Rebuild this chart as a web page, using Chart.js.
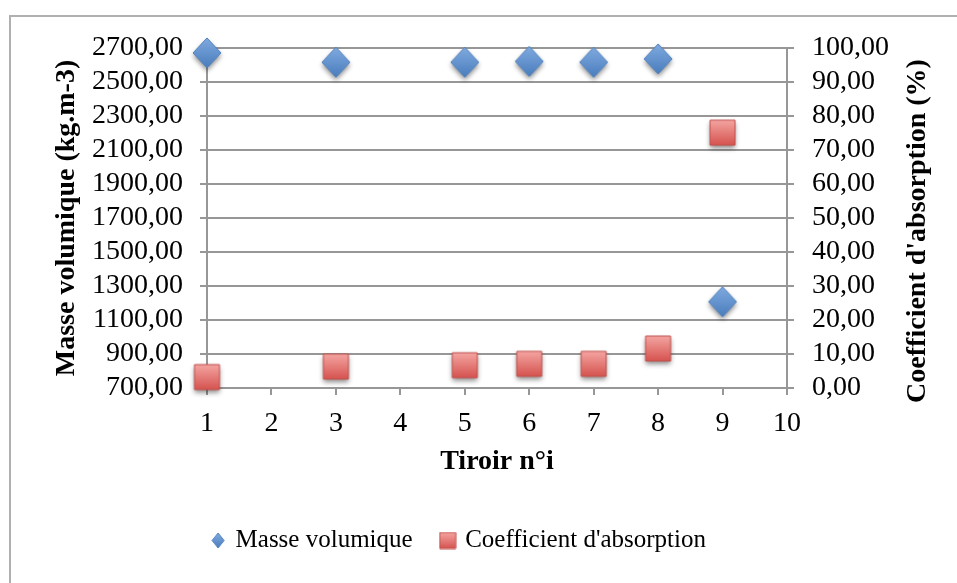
<!DOCTYPE html>
<html>
<head>
<meta charset="utf-8">
<script src="https://cdn.jsdelivr.net/npm/chart.js@4.4.1/dist/chart.umd.min.js"></script>
<style>
    html, body { margin: 0; padding: 0; background: #fff; overflow: hidden; }
    #frame {
        position: absolute; left: 9px; top: 15px; width: 980px; height: 600px;
        border-left: 2px solid #b0b0b0; border-top: 2px solid #b0b0b0;
    }
    #wrap { position: absolute; left: 0; top: 0; width: 957px; height: 583px; }
</style>
</head>
<body>
<div id="frame"></div>
<div id="wrap"><canvas id="myChart"></canvas></div>
<script>
const tiroirs = [1, 3, 5, 6, 7, 8, 9];
const masseVolumique = [2671, 2616, 2616, 2621, 2616, 2636, 1207];
const coefAbsorption = [3.2, 6.3, 6.7, 7.1, 7.1, 11.6, 75.1];

const SERIF = '"Liberation Serif", "DejaVu Serif", serif';
const GRID = '#979797';

// builds a little canvas with a shaded marker, used as pointStyle
function makeMarker(shape, w, h, top, bottom, edge, shadow) {
    const pad = shadow ? 10 : 1;
    const c = document.createElement('canvas');
    c.width = w + pad * 2;
    c.height = h + pad * 2;
    const ctx = c.getContext('2d');
    const cx = c.width / 2, cy = c.height / 2;
    ctx.beginPath();
    if (shape === 'diamond') {
        ctx.moveTo(cx, cy - h / 2);
        ctx.lineTo(cx + w / 2, cy);
        ctx.lineTo(cx, cy + h / 2);
        ctx.lineTo(cx - w / 2, cy);
        ctx.closePath();
    } else {
        ctx.rect(cx - w / 2, cy - h / 2, w, h);
    }
    const grad = ctx.createLinearGradient(0, cy - h / 2, 0, cy + h / 2);
    grad.addColorStop(0, top);
    grad.addColorStop(1, bottom);
    ctx.fillStyle = grad;
    if (shadow) {
        ctx.shadowColor = 'rgba(0,0,0,0.45)';
        ctx.shadowBlur = 5;
        ctx.shadowOffsetY = 3;
    }
    ctx.fill();
    ctx.shadowColor = 'transparent';
    ctx.lineWidth = 1;
    ctx.strokeStyle = edge;
    ctx.stroke();
    return c;
}

const diamondPt = makeMarker('diamond', 28, 30, '#80aae0', '#4a7dbd', '#4f81bd', true);
const squarePt = makeMarker('square', 25, 25, '#f4a5a2', '#d5534f', '#c0504d', true);
const diamondKey = makeMarker('diamond', 12, 15, '#80aae0', '#4a7dbd', '#4f81bd', false);
const squareKey = makeMarker('square', 16, 16, '#f4a5a2', '#d5534f', '#c0504d', false);

const fmt = v => v.toFixed(2).replace('.', ',');

// right axis title reads bottom-to-top like the left one
const rightTitle = {
    id: 'rightTitle',
    afterDraw(chart) {
        const s = chart.scales.y2;
        const a = chart.chartArea;
        const ctx = chart.ctx;
        ctx.save();
        ctx.translate(s.right - 39, (a.top + a.bottom) / 2 + 13);
        ctx.rotate(-Math.PI / 2);
        ctx.font = 'bold 28px ' + SERIF;
        ctx.fillStyle = '#000';
        ctx.textAlign = 'center';
        ctx.textBaseline = 'middle';
        ctx.fillText("Coefficient d'absorption (%)", 0, 0);
        ctx.restore();
    }
};

// nudge the legend row a little to the left
const legendShift = {
    id: 'legendShift',
    afterLayout(chart) {
        chart.legend.left -= 19;
        chart.legend.right -= 19;
    }
};

const canvasContext = document.getElementById('myChart').getContext('2d');

const myChart = new Chart(canvasContext, {
    type: 'scatter',
    data: {
        datasets: [
            {
                label: 'Masse volumique',
                data: tiroirs.map((t, i) => ({ x: t, y: masseVolumique[i] })),
                pointStyle: diamondPt,
                yAxisID: 'y',
                clip: false,
            },
            {
                label: "Coefficient d'absorption",
                data: tiroirs.map((t, i) => ({ x: t, y: coefAbsorption[i] })),
                pointStyle: squarePt,
                yAxisID: 'y2',
                clip: false,
            }
        ]
    },
    options: {
        responsive: true,
        maintainAspectRatio: false,
        animation: false,
        layout: { padding: { top: 48, left: 0, right: 0, bottom: 20 } },
        plugins: {
            tooltip: { enabled: false },
            legend: {
                position: 'bottom',
                labels: {
                    usePointStyle: true,
                    boxWidth: 10,
                    boxHeight: 10,
                    padding: 30,
                    color: '#000',
                    font: { family: SERIF, size: 25 },
                    generateLabels(chart) {
                        const items = Chart.defaults.plugins.legend.labels.generateLabels(chart);
                        items[0].pointStyle = diamondKey;
                        items[1].pointStyle = squareKey;
                        return items;
                    }
                }
            }
        },
        scales: {
            x: {
                type: 'linear',
                min: 1,
                max: 10,
                afterFit(scale) { scale.height = 110; },
                ticks: { stepSize: 1, autoSkip: false, color: '#000', padding: 12, font: { family: SERIF, size: 28 } },
                grid: { drawOnChartArea: false, color: GRID, lineWidth: 2, tickLength: 7 },
                border: { color: GRID, width: 2 },
                title: {
                    display: true,
                    text: 'Tiroir n°i',
                    color: '#000',
                    padding: { top: 0, bottom: 19 },
                    font: { family: SERIF, size: 28, weight: 'bold' }
                }
            },
            y: {
                position: 'left',
                min: 700,
                max: 2700,
                afterFit(scale) { scale.width = 207; },
                ticks: { stepSize: 200, autoSkip: false, color: '#000', padding: 17, callback: fmt, font: { family: SERIF, size: 28 } },
                grid: { color: GRID, lineWidth: 2, tickLength: 7 },
                border: { color: GRID, width: 2 },
                title: {
                    display: true,
                    text: 'Masse volumique (kg.m-3)',
                    color: '#000',
                    padding: { top: 50, bottom: 0 },
                    font: { family: SERIF, size: 28, weight: 'bold' }
                }
            },
            y2: {
                position: 'right',
                min: 0,
                max: 100,
                afterFit(scale) { scale.width = 170; },
                ticks: { stepSize: 10, autoSkip: false, color: '#000', padding: 18, callback: fmt, font: { family: SERIF, size: 28 } },
                grid: { drawOnChartArea: false, color: GRID, lineWidth: 2, tickLength: 7 },
                border: { color: GRID, width: 2 }
            }
        }
    },
    plugins: [rightTitle, legendShift]
});
</script>
</body>
</html>
